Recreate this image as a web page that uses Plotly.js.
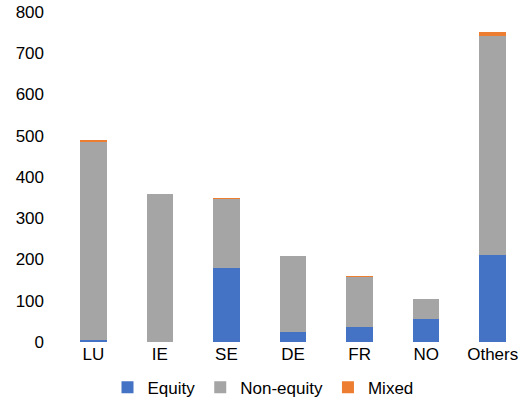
<!DOCTYPE html>
<html>
<head>
<meta charset="utf-8">
<script src="https://cdn.plot.ly/plotly-3.0.1.min.js"></script>
<style>html,body{margin:0;padding:0;background:#fff;}#chart{width:526px;height:401px;}</style>
</head>
<body>
<div id="chart"></div>
<script>
var categories = ["LU", "IE", "SE", "DE", "FR", "NO", "Others"];
var equity = [5, 0, 180, 24, 37, 55, 211];
var nonEquity = [481, 358, 167, 184, 120, 49, 532];
var mixed = [4, 0, 2, 1.5, 3, 0, 9];
var yTicks = [0, 100, 200, 300, 400, 500, 600, 700, 800];

var common = {type: "bar", x: categories, hoverinfo: "y"};
var data = [
  Object.assign({}, common, {name: "Equity", y: equity, marker: {color: "#4472C4", line: {width: 0}}}),
  Object.assign({}, common, {name: "Non-equity", y: nonEquity, marker: {color: "#A5A5A5", line: {width: 0}}}),
  Object.assign({}, common, {name: "Mixed", y: mixed, marker: {color: "#ED7D31", line: {width: 0}}})
];

var layout = {
  width: 526, height: 401,
  margin: {l: 60, r: 0, t: 12, b: 59, autoexpand: false},
  barmode: "stack",
  bargap: 0.6,
  paper_bgcolor: "#fff", plot_bgcolor: "#fff",
  font: {family: "Liberation Sans, Arial, sans-serif", size: 17, color: "#000"},
  xaxis: {showgrid: false, zeroline: false, showline: false, ticks: "", tickfont: {size: 17}, automargin: false},
  yaxis: {range: [0, 800], tickvals: yTicks, showgrid: false, zeroline: false, showline: false, ticks: "", tickfont: {size: 17}, ticklabelstandoff: 15, automargin: false},
  showlegend: true,
  legend: {orientation: "h", x: 0.5, xanchor: "center", xref: "container", yref: "container", y: 0.033, yanchor: "middle", font: {size: 17}, itemwidth: 30, traceorder: "normal", bgcolor: "rgba(0,0,0,0)"}
};

Plotly.newPlot("chart", data, layout, {displayModeBar: false, staticPlot: true});
</script>
</body>
</html>
